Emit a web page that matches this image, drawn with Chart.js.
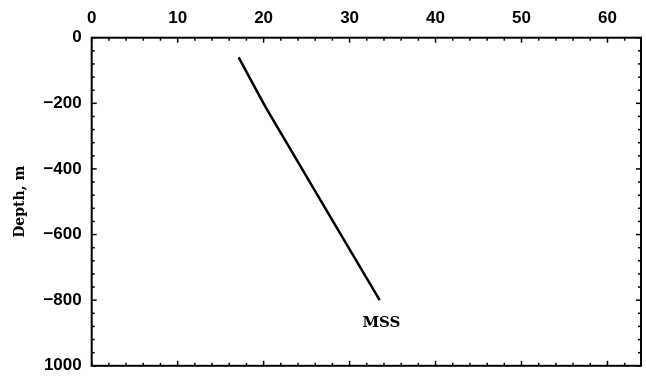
<!DOCTYPE html>
<html><head><meta charset="utf-8">
<script src="https://cdn.jsdelivr.net/npm/chart.js@4.4.1/dist/chart.umd.min.js"></script>
<style>html,body{margin:0;padding:0;background:#fff}#wrap{width:646px;height:386px}</style>
</head><body><div id="wrap"><canvas id="c" width="646" height="386"></canvas></div>
<script>
const depthValues = [-60, -224, -800];
const tempValues = [17.1, 20.5, 33.5];
const xTicks = [0, 10, 20, 30, 40, 50, 60];
const yTicks = [0, -200, -400, -600, -800, -1000];
const curveLabel = 'MSS';
const labelPos = {x: 33.7, y: -871};

const framePlugin = {
  id: 'frame',
  afterDraw(chart) {
    const {ctx, chartArea: a, scales: {x, y}} = chart;
    ctx.save();
    ctx.strokeStyle = '#000';
    ctx.lineWidth = 2;
    ctx.strokeRect(a.left, a.top, a.right - a.left, a.bottom - a.top);
    ctx.lineWidth = 1.5;
    for (let v = 0; v <= x.max; v += 2) {
      const px = x.getPixelForValue(v);
      const L = (v % 10 === 0) ? 5 : 3;
      ctx.beginPath(); ctx.moveTo(px, a.top); ctx.lineTo(px, a.top + L); ctx.stroke();
      ctx.beginPath(); ctx.moveTo(px, a.bottom); ctx.lineTo(px, a.bottom - L); ctx.stroke();
    }
    for (let v = 0; v >= y.min; v -= 40) {
      const py = y.getPixelForValue(v);
      const L = (v % 200 === 0) ? 5 : 3;
      ctx.beginPath(); ctx.moveTo(a.left, py); ctx.lineTo(a.left + L, py); ctx.stroke();
      ctx.beginPath(); ctx.moveTo(a.right, py); ctx.lineTo(a.right - L, py); ctx.stroke();
    }
    ctx.fillStyle = '#000';
    ctx.font = 'bold 15px "DejaVu Serif"';
    ctx.textAlign = 'center';
    ctx.textBaseline = 'middle';
    ctx.fillText(curveLabel, x.getPixelForValue(labelPos.x), y.getPixelForValue(labelPos.y));
    ctx.restore();
  }
};

new Chart(document.getElementById('c'), {
  type: 'scatter',
  data: {
    datasets: [{
      data: tempValues.map((t, i) => ({x: t, y: depthValues[i]})),
      showLine: true,
      borderColor: '#000',
      borderWidth: 2.5,
      pointRadius: 0,
      tension: 0.15,
      fill: false
    }]
  },
  options: {
    responsive: false,
    animation: false,
    layout: {padding: {left: 0, right: 5, top: 0, bottom: 10}},
    plugins: {legend: {display: false}, tooltip: {enabled: false}},
    scales: {
      x: {
        type: 'linear', position: 'top', min: 0, max: 63.9,
        afterBuildTicks(s) { s.ticks = xTicks.map(v => ({value: v})); },
        afterFit(s) { s.height = 37.7; },
        grid: {display: false, drawTicks: false},
        border: {display: false},
        ticks: {color: '#000', padding: 9, font: {family: 'Liberation Sans', weight: 'bold', size: 17}}
      },
      y: {
        type: 'linear', min: -1000, max: 0,
        afterBuildTicks(s) { s.ticks = yTicks.map(v => ({value: v})); },
        afterFit(s) { s.width = 91.7; },
        grid: {display: false, drawTicks: false},
        border: {display: false},
        title: {display: true, text: 'Depth, m', color: '#000', padding: {top: 12, bottom: 0},
                font: {family: 'DejaVu Serif', weight: 'bold', size: 14}},
        ticks: {color: '#000', padding: 10, font: {family: 'Liberation Sans', weight: 'bold', size: 17},
          callback: v => v === -1000 ? '1000' : (v < 0 ? '\u2212' + Math.abs(v) : String(v))}
      }
    }
  },
  plugins: [framePlugin]
});
</script></body></html>
